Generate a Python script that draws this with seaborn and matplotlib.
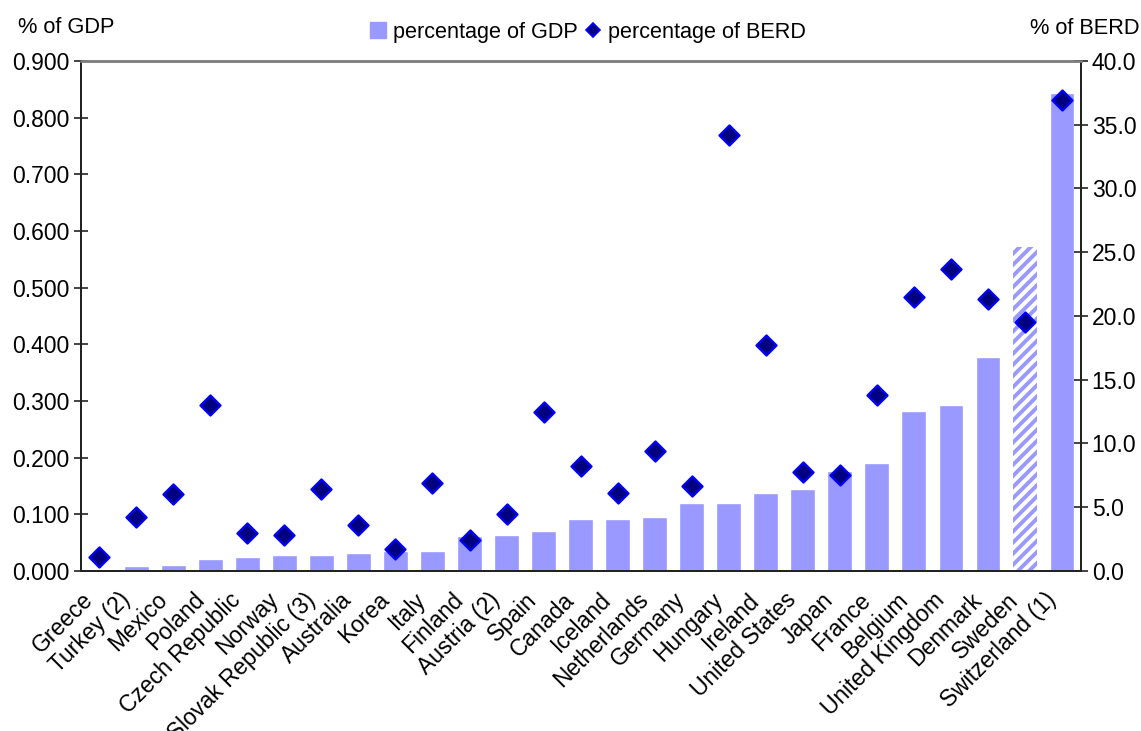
import numpy as np
import pandas as pd
import matplotlib
matplotlib.use("Agg")
import matplotlib.pyplot as plt
import seaborn as sns
from matplotlib.lines import Line2D
from matplotlib.ticker import FormatStrFormatter, FixedLocator
from matplotlib.transforms import ScaledTranslation

countries = ["Greece", "Turkey (2)", "Mexico", "Poland", "Czech Republic", "Norway",
             "Slovak Republic (3)", "Australia", "Korea", "Italy", "Finland", "Austria (2)",
             "Spain", "Canada", "Iceland", "Netherlands", "Germany", "Hungary", "Ireland",
             "United States", "Japan", "France", "Belgium", "United Kingdom", "Denmark",
             "Sweden", "Switzerland (1)"]
pct_gdp = [0.004, 0.008, 0.011, 0.022, 0.025, 0.029, 0.029, 0.032, 0.036, 0.036,
           0.061, 0.064, 0.071, 0.092, 0.092, 0.096, 0.120, 0.120, 0.138, 0.145,
           0.177, 0.191, 0.282, 0.293, 0.378, 0.572, 0.843]
pct_berd = [1.1, 4.2, 6.0, 13.0, 3.0, 2.8, 6.4, 3.6, 1.7, 6.9, 2.4, 4.5, 12.5, 8.2,
            6.1, 9.4, 6.7, 34.2, 17.7, 7.8, 7.5, 13.8, 21.5, 23.7, 21.3, 19.5, 36.9]
hatched = ["Sweden"]  # bar drawn with stripes

BAR = "#9999FF"
FILL = "#000080"
EDGE = "#0000FF"

sns.set_style("white")
plt.rcParams["font.family"] = ["Liberation Sans", "DejaVu Sans"]
plt.rcParams["hatch.linewidth"] = 2.8
plt.rcParams["text.color"] = "black"
plt.rcParams["xtick.color"] = "black"
plt.rcParams["ytick.color"] = "black"

FS = 16.5

df = pd.DataFrame({"country": countries, "gdp": pct_gdp, "berd": pct_berd})

fig = plt.figure(figsize=(11.41, 7.31), dpi=100)
ax = fig.add_axes([0.0707, 0.2189, 0.8763, 0.6977])

sns.barplot(data=df, x="country", y="gdp", color=BAR, saturation=1, width=0.67, ax=ax)
for patch, name in zip(ax.patches, countries):
    if name in hatched:
        patch.set_facecolor("white")
        patch.set_edgecolor(BAR)
        patch.set_hatch("///")
        patch.set_linewidth(0)

ax.set_xlim(-0.5, len(countries) - 0.5)
ax.set_ylim(0, 0.9)
ax.set_yticks(np.arange(0, 0.91, 0.1))
ax.yaxis.set_major_formatter(FormatStrFormatter("%.3f"))
ax.set_xlabel("")
ax.set_ylabel("")
ax.set_xticks(range(len(countries)))
ax.set_xticklabels(countries, rotation=45, ha="right", rotation_mode="anchor", fontsize=FS)
ax.tick_params(axis="x", which="major", length=0, pad=12.5)
shift = ScaledTranslation(-18 / 100, 0, fig.dpi_scale_trans)
for lab in ax.get_xticklabels():
    lab.set_transform(lab.get_transform() + shift)
ax.xaxis.set_minor_locator(FixedLocator(np.arange(-0.5, len(countries), 1.0)))
ax.tick_params(axis="x", which="minor", direction="inout", length=10, width=1.2, color="#222222")
ax.tick_params(axis="y", direction="inout", length=10, width=1.2, color="#222222",
               labelsize=FS, pad=3)

ax2 = ax.twinx()
sns.scatterplot(x=np.arange(len(countries)), y=df["berd"], marker="D", s=105,
                color=FILL, edgecolor=EDGE, linewidth=1.6, ax=ax2, zorder=5, legend=False)
ax2.set_ylim(0, 40)
ax2.set_yticks(np.arange(0, 40.1, 5))
ax2.yaxis.set_major_formatter(FormatStrFormatter("%.1f"))
ax2.set_ylabel("")
ax2.tick_params(axis="y", direction="inout", length=10, width=1.2, color="#222222",
                labelsize=FS, pad=3)
ax2.set_xlim(-0.5, len(countries) - 0.5)

for a in (ax, ax2):
    a.spines["top"].set_color("#808080")
    a.spines["top"].set_linewidth(1.8)
    for s in ("left", "right", "bottom"):
        a.spines[s].set_color("#222222")
        a.spines[s].set_linewidth(1.4)

fig.text(0.016, 0.963, "% of GDP", fontsize=15.7, va="center", ha="left")
fig.text(0.999, 0.961, "% of BERD", fontsize=15.7, va="center", ha="right")

handles = [
    Line2D([], [], marker="s", linestyle="", markersize=11, markerfacecolor=BAR,
           markeredgecolor=BAR),
    Line2D([], [], marker="D", linestyle="", markersize=7.5, markerfacecolor=FILL,
           markeredgecolor=EDGE, markeredgewidth=1.2),
]
fig.legend(handles, ["percentage of GDP", "percentage of BERD"], loc="center",
           bbox_to_anchor=(0.515, 0.956), ncol=2, frameon=False, fontsize=15.6,
           handlelength=0.8, handletextpad=0.3, columnspacing=0.3, borderaxespad=0)

fig.savefig("out.png", dpi=100)
plt.close(fig)
